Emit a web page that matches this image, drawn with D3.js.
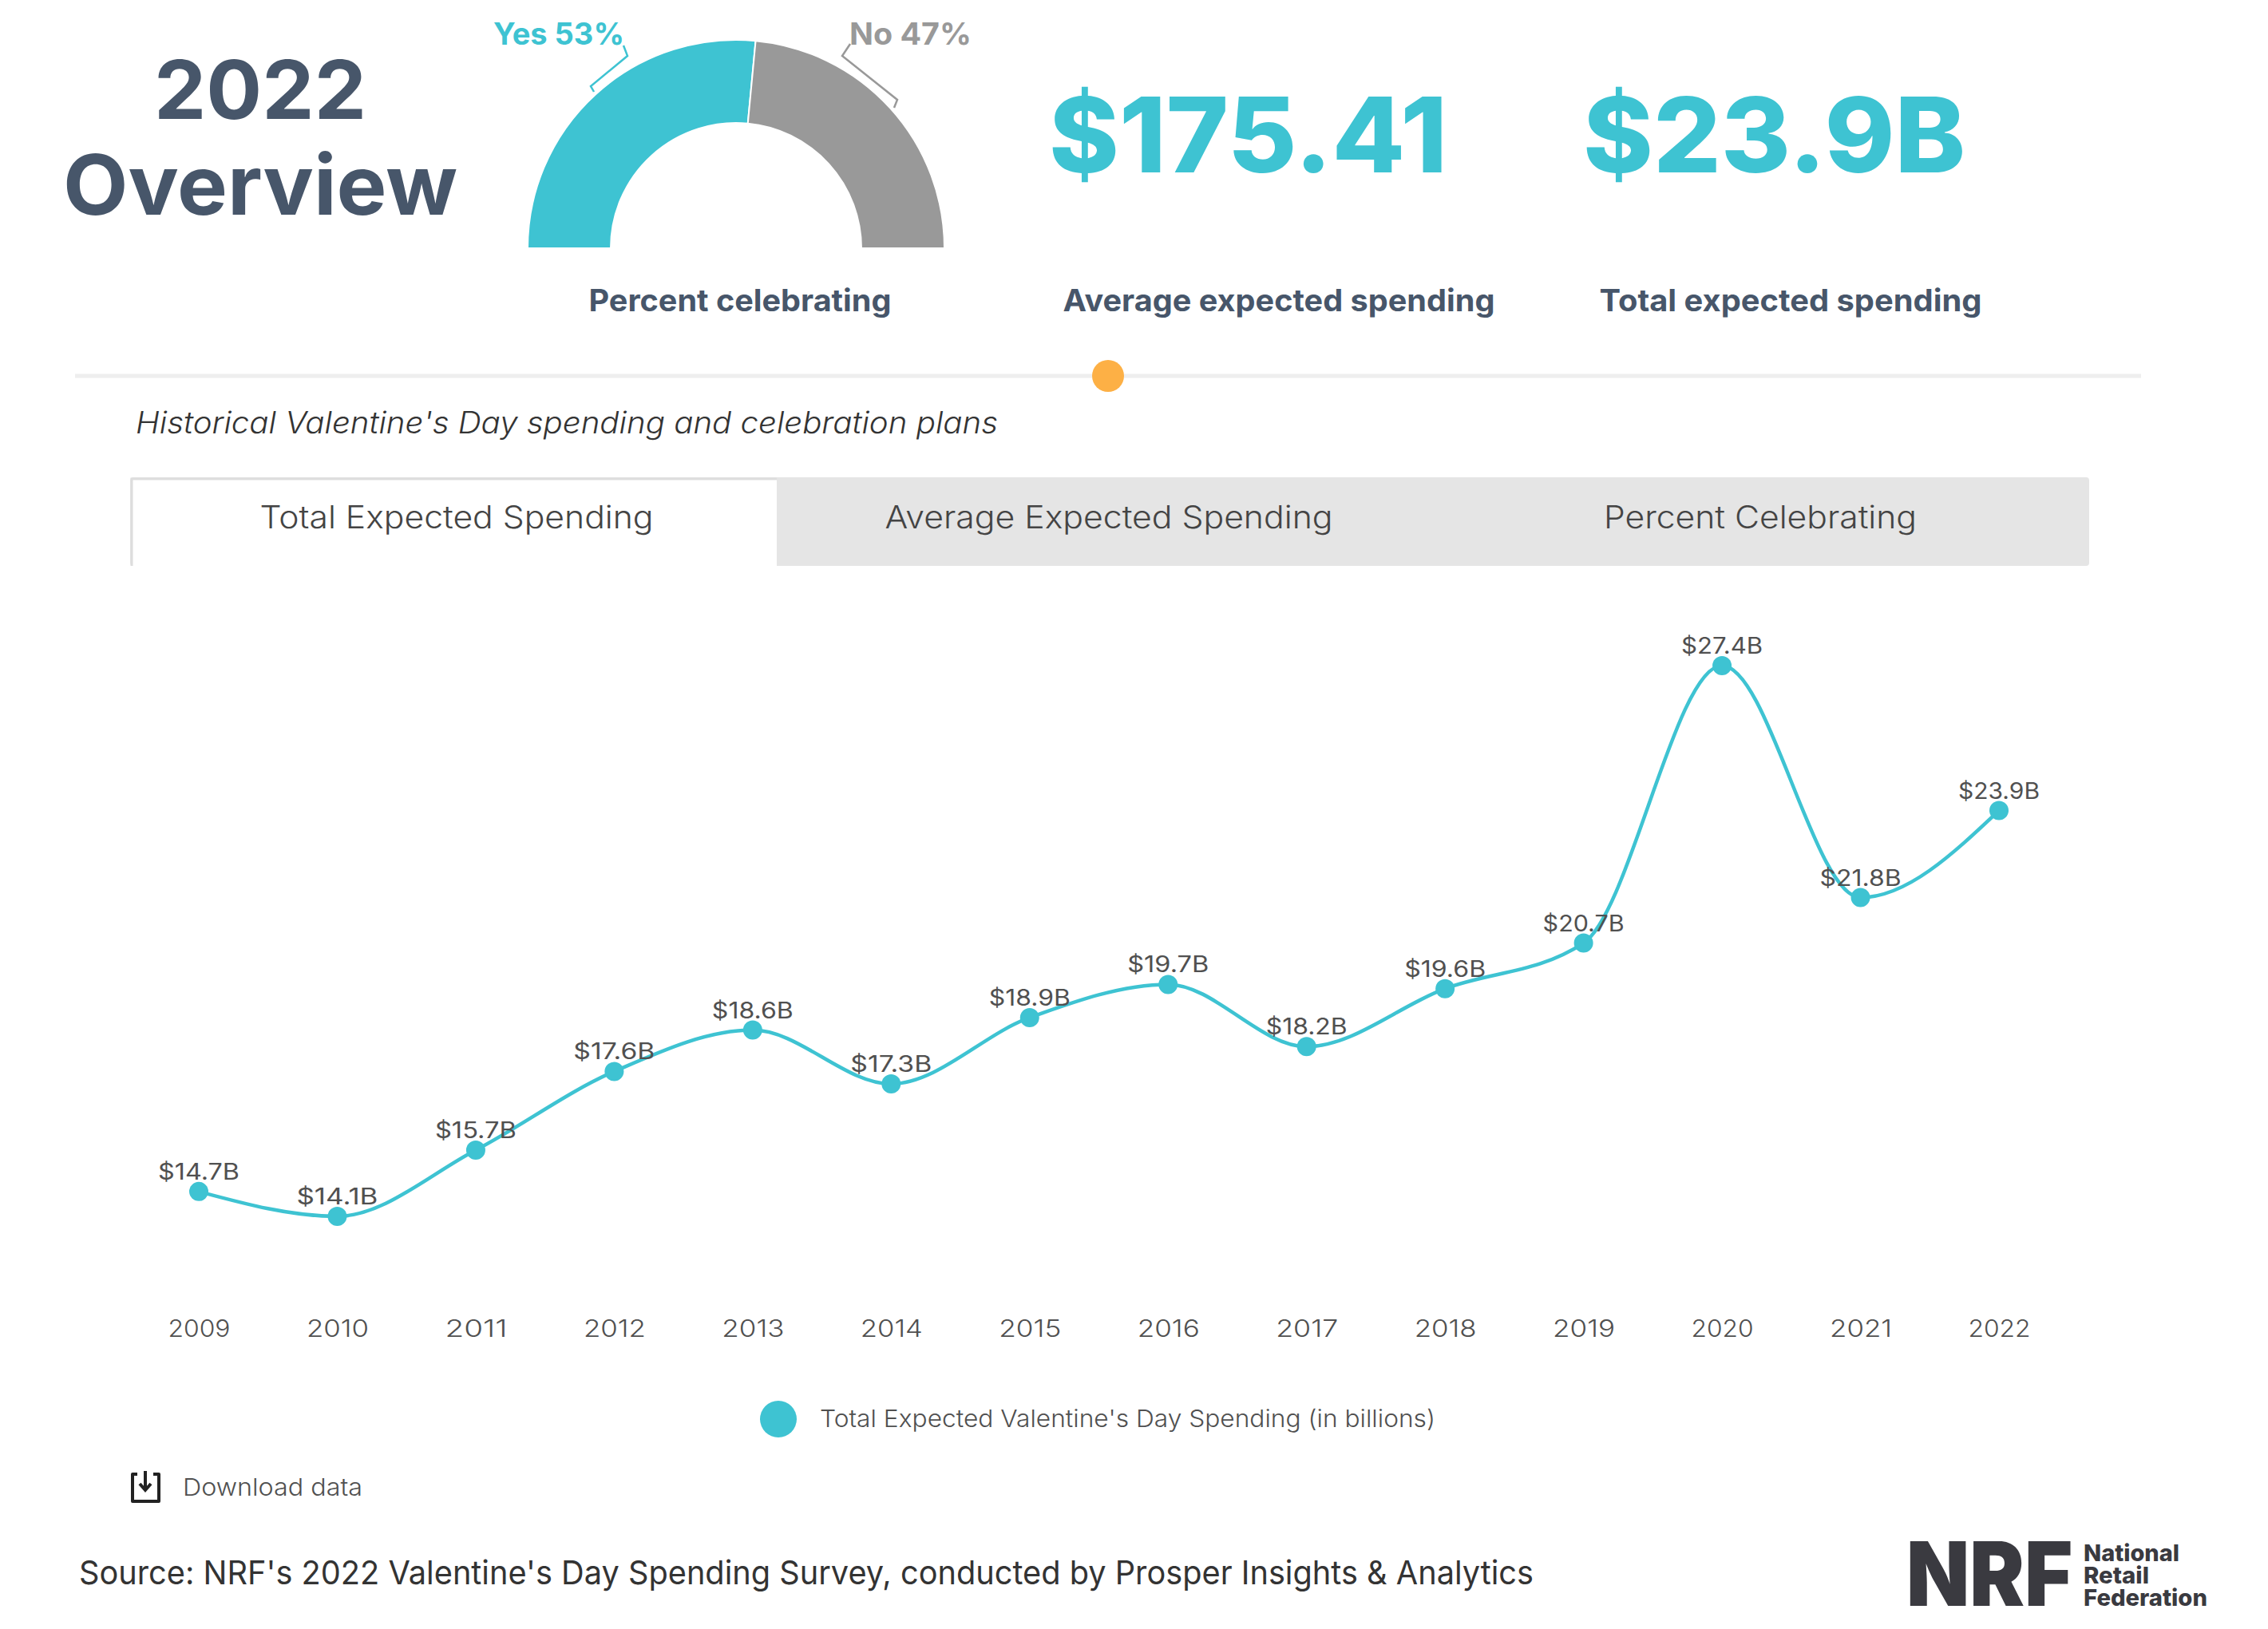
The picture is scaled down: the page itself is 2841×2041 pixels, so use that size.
<!DOCTYPE html>
<html>
<head>
<meta charset="utf-8">
<script src="https://cdn.jsdelivr.net/npm/d3@7"></script>
<style>
html,body{margin:0;padding:0;background:#fff}
svg{display:block}
text{font-family:Inter,"Noto Sans",sans-serif}
</style>
</head>
<body>
<svg id="c" width="2841" height="2041" viewBox="0 0 2841 2041"></svg>
<script>
const years = ["2009","2010","2011","2012","2013","2014","2015","2016","2017","2018","2019","2020","2021","2022"];
const totals = [14.7,14.1,15.7,17.6,18.6,17.3,18.9,19.7,18.2,19.6,20.7,27.4,21.8,23.9];
const gaugeLabels = ["Yes","No"];
const gaugeValues = [53,47];
const tabs = ["Total Expected Spending","Average Expected Spending","Percent Celebrating"];

const TEAL="#3ec3d2", GRAY="#999999", DARK="#47566a", TXT="#505050";
const svg=d3.select("#c");
function T(x,y,s,size,weight,fill,anchor,len,style){
  const t=svg.append("text").attr("x",x).attr("y",y).text(s)
    .attr("font-size",size).attr("font-weight",weight).attr("fill",fill).attr("text-anchor",anchor||"start");
  if(len) t.attr("textLength",len).attr("lengthAdjust","spacingAndGlyphs");
  if(style) t.attr("font-style",style);
  return t;
}

// heading
T(326,149,"2022",102,700,DARK,"middle",266);
T(326,269,"Overview",104,700,DARK,"middle",494);

// gauge
const pie=d3.pie().sort(null).startAngle(-Math.PI/2).endAngle(Math.PI/2);
const arc=d3.arc().innerRadius(157).outerRadius(261);
const gauge=svg.append("g").attr("transform","translate(922,311)");
gauge.selectAll("path").data(pie(gaugeValues)).join("path")
  .attr("d",arc).attr("fill",(d,i)=>[TEAL,GRAY][i]).attr("stroke","#fff").attr("stroke-width",2);
svg.append("path").attr("d","M781,57L786,70L740,108L744,115").attr("fill","none").attr("stroke",TEAL).attr("stroke-width",2.5);
svg.append("path").attr("d","M1065,55L1055,70L1124,125L1120,135").attr("fill","none").attr("stroke",GRAY).attr("stroke-width",2.5);
T(618,56,gaugeLabels[0]+" "+gaugeValues[0]+"%",38,700,TEAL,"start",164);
T(1064,56,gaugeLabels[1]+" "+gaugeValues[1]+"%",38,700,GRAY,"start",153);

// big numbers
T(1314,216,"$175.41",130,800,TEAL,"start",499);
T(1983,216,"$23.9B",130,800,TEAL,"start",479);

// captions
T(927,390,"Percent celebrating",38,700,DARK,"middle",379);
T(1602,390,"Average expected spending",38,700,DARK,"middle",541);
T(2243,390,"Total expected spending",38,700,DARK,"middle",479);

// separator
svg.append("line").attr("x1",94).attr("x2",2682).attr("y1",471).attr("y2",471).attr("stroke","#eeeeee").attr("stroke-width",5);
svg.append("circle").attr("cx",1388).attr("cy",471).attr("r",20).attr("fill","#fdb045");

T(170,543,"Historical Valentine's Day spending and celebration plans",38,300,"#333","start",1080,"italic");

// tabs
svg.append("rect").attr("x",163).attr("y",598).attr("width",2454).attr("height",111).attr("rx",4).attr("fill","#e5e5e5");
svg.append("rect").attr("x",166).attr("y",601).attr("width",807).attr("height",108).attr("fill","#fff");
svg.append("path").attr("d","M165,709V600H973").attr("fill","none").attr("stroke","#dddddd").attr("stroke-width",3);
const tabX=[572,1389,2205], tabLen=[493,561,392];
tabs.forEach((s,i)=>T(tabX[i],662,s,39,300,"#444","middle",tabLen[i]));

// chart
const x=d3.scalePoint().domain(years).range([249,2504]);
const y=d3.scaleLinear().domain([14.1,27.4]).range([1524,834]);
const line=d3.line().x((d,i)=>x(years[i])).y(d=>y(d)).curve(d3.curveMonotoneX);
svg.append("path").attr("d",line(totals)).attr("fill","none").attr("stroke",TEAL).attr("stroke-width",4.5);
svg.selectAll("circle.pt").data(totals).join("circle").attr("class","pt")
  .attr("cx",(d,i)=>x(years[i])).attr("cy",d=>y(d)).attr("r",12).attr("fill",TEAL);
svg.selectAll("text.lab").data(totals).join("text").attr("class","lab")
  .attr("x",(d,i)=>x(years[i])).attr("y",d=>y(d)-15).attr("text-anchor","middle")
  .attr("font-size",28).attr("font-weight",400).attr("fill",TXT)
  .attr("textLength",102).attr("lengthAdjust","spacingAndGlyphs")
  .text(d=>"$"+d.toFixed(1)+"B");
const ax=svg.append("g").attr("transform","translate(0,1642)")
  .call(d3.axisBottom(x).tickSize(0).tickPadding(0));
ax.select(".domain").remove();
ax.selectAll("text").attr("y",33).attr("dy",null).attr("font-size",30).attr("fill",TXT)
  .attr("font-family","Inter").attr("font-weight",300)
  .attr("textLength",78).attr("lengthAdjust","spacingAndGlyphs");

// legend
svg.append("circle").attr("cx",975).attr("cy",1778).attr("r",23).attr("fill",TEAL);
T(1027,1788,"Total Expected Valentine's Day Spending (in billions)",30,300,TXT,"start",771);

// download
svg.append("path").attr("d","M172,1847H166V1881H199V1847H192").attr("fill","none").attr("stroke","#222").attr("stroke-width",4).attr("stroke-linejoin","round");
svg.append("path").attr("d","M182,1843V1866M175,1859L182,1867L189,1859").attr("fill","none").attr("stroke","#222").attr("stroke-width",4);
T(229,1874,"Download data",30,300,TXT,"start",225);

// source
T(99,1985,"Source: NRF's 2022 Valentine's Day Spending Survey, conducted by Prosper Insights & Analytics",41,400,"#333","start",1822);

// logo
T(2388,2012,"NRF",112,900,"#3a3a40","start",208);
T(2610,1956,"National",29,800,"#3a3a40","start",120);
T(2610,1984,"Retail",29,800,"#3a3a40","start",82);
T(2610,2012,"Federation",29,800,"#3a3a40","start",155);
</script>
</body>
</html>
